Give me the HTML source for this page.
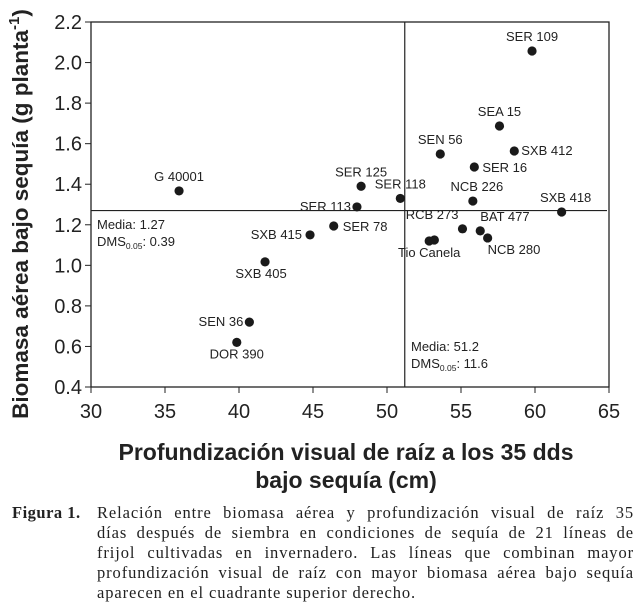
<!DOCTYPE html>
<html><head><meta charset="utf-8">
<style>
body{margin:0;background:#fff;width:639px;height:607px;overflow:hidden}
svg{display:block}
.cap{position:absolute;font-family:"Liberation Serif",serif;font-size:16.5px;color:#222;line-height:20px}
.ln{text-align:justify;text-align-last:justify;white-space:nowrap;letter-spacing:0.9px;height:20px}
.ln.last{text-align-last:left}
</style></head>
<body>
<svg id="chart" width="639" height="500" xmlns="http://www.w3.org/2000/svg" font-family="Liberation Sans, sans-serif" style="position:absolute;left:0;top:0"></svg>
<div class="cap" style="left:12px;top:503px;width:622px">
<div style="position:absolute;left:0;top:0;font-weight:bold;letter-spacing:0.5px">Figura 1.</div>
<div style="position:absolute;left:85px;top:0;width:537px">
<div class="ln">Relación entre biomasa aérea y profundización visual de raíz 35</div>
<div class="ln">días después de siembra en condiciones de sequía de 21 líneas de</div>
<div class="ln">frijol cultivadas en invernadero. Las líneas que combinan mayor</div>
<div class="ln">profundización visual de raíz con mayor biomasa aérea bajo sequía</div>
<div class="ln last">aparecen en el cuadrante superior derecho.</div>
</div>
</div>
<script>
const names=["G 40001","SXB 415","SXB 405","SEN 36","DOR 390","SER 109","SEA 15","SEN 56","SXB 412","SER 16","SER 125","SER 118","SER 113","SER 78","NCB 226","SXB 418","RCB 273","BAT 477","NCB 280","Tio Canela",""];
const xVals=[35.95,44.8,41.76,40.7,39.85,59.8,57.6,53.6,58.6,55.9,48.25,50.9,47.97,46.4,55.8,61.8,55.1,56.3,56.8,52.85,53.2];
const yVals=[1.367,1.15,1.017,0.72,0.62,2.057,1.687,1.549,1.564,1.485,1.39,1.33,1.288,1.194,1.317,1.263,1.18,1.17,1.135,1.12,1.125];
const xTicks=[30,35,40,45,50,55,60,65];
const yTicks=[0.4,0.6,0.8,1.0,1.2,1.4,1.6,1.8,2.0,2.2];
const meanX=51.2, meanY=1.27;
const off=[[0,-10,"middle"],[-8,4,"end"],[-4,16,"middle"],[-6,4,"end"],[0,16,"middle"],[0,-10,"middle"],[0,-10,"middle"],[0,-10,"middle"],[7,4,"start"],[8,5,"start"],[0,-10,"middle"],[0,-10,"middle"],[-6,4,"end"],[9,5,"start"],[4,-10,"middle"],[4,-10,"middle"],[-4,-10,"end"],[0,-10,"start"],[0,16,"start"],[0,16,"middle"],[0,0,"middle"]];
const L=91,R=609,T=22,B=387;
const sx=v=>L+(v-30)/(65-30)*(R-L);
const sy=v=>B-(v-0.4)/(2.2-0.4)*(B-T);
const svg=document.getElementById('chart');
const NS="http://www.w3.org/2000/svg";
function mk(tag,attrs,txt){const e=document.createElementNS(NS,tag);for(const k in attrs)e.setAttribute(k,attrs[k]);if(txt!==undefined)e.textContent=txt;svg.appendChild(e);return e;}
let e=mk('rect',{x:L,y:T,width:R-L,height:B-T,fill:'none',stroke:'#222','stroke-width':1.3});


xTicks.forEach(t=>{
 let l=mk('line',{x1:sx(t),x2:sx(t),y1:B,y2:B+6,stroke:'#222'});
 
 
 let tx=mk('text',{x:sx(t),y:B+31,'font-size':20,'text-anchor':'middle',fill:'#222'},t);
 
 
});
yTicks.forEach(t=>{
 let l=mk('line',{x1:L-6,x2:L,y1:sy(t),y2:sy(t),stroke:'#222'});
 
 
 let tx=mk('text',{x:L-9,y:sy(t)+7,'font-size':20,'text-anchor':'end',fill:'#222'},t.toFixed(1));
 
 
});
e=mk('line',{x1:sx(meanX),x2:sx(meanX),y1:T,y2:B,stroke:'#222','stroke-width':1.2});


e=mk('line',{x1:L,x2:R-2,y1:sy(meanY),y2:sy(meanY),stroke:'#222','stroke-width':1.2});


xVals.forEach((x,i)=>{
 let c=mk('circle',{cx:sx(x),cy:sy(yVals[i]),r:4.6,fill:'#1a1a1a'});
 
 
 if(names[i]){
  let t=mk('text',{x:sx(x)+off[i][0],y:sy(yVals[i])+off[i][1],'font-size':13,'text-anchor':off[i][2],fill:'#222'},names[i]);
  
  
 }
});
e=mk('text',{x:97,y:229,'font-size':13,fill:'#222'},'Media: 1.27');


e=mk('text',{x:97,y:246,'font-size':13,fill:'#222'});
e.innerHTML='DMS<tspan font-size="8.5" dy="3">0.05</tspan><tspan dy="-3">: 0.39</tspan>';


e=mk('text',{x:411,y:351,'font-size':13,fill:'#222'},'Media: 51.2');


e=mk('text',{x:411,y:368,'font-size':13,fill:'#222'});
e.innerHTML='DMS<tspan font-size="8.5" dy="3">0.05</tspan><tspan dy="-3">: 11.6</tspan>';


e=mk('text',{x:0,y:0,'font-size':22.5,'font-weight':'bold','text-anchor':'middle',fill:'#222',transform:'translate(28,214) rotate(-90)'});
e.innerHTML='Biomasa aérea bajo sequía (g planta<tspan font-size="15" dy="-9">-1</tspan><tspan dy="9">)</tspan>';


e=mk('text',{x:346,y:460,'font-size':23,'font-weight':'bold','text-anchor':'middle',fill:'#222'},'Profundización visual de raíz a los 35 dds');


e=mk('text',{x:346,y:488,'font-size':23,'font-weight':'bold','text-anchor':'middle',fill:'#222'},'bajo sequía (cm)');


</script>
</body></html>
